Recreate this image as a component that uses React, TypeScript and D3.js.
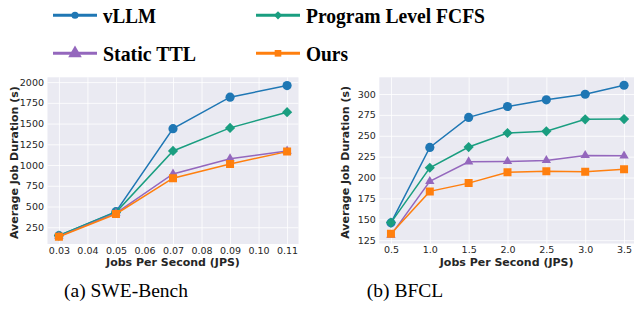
import React, { useEffect, useRef } from 'react';
import * as d3 from 'd3';

interface Series {
  name: string,
  color: string,
  marker: string,
  values: number[]
}

const sweJps: number[] = [0.03, 0.05, 0.07, 0.09, 0.11];
const sweVllm: number[] = [149, 438, 1439, 1818, 1958];
const sweFcfs: number[] = [150, 430, 1170, 1448, 1637];
const sweTtl: number[] = [140, 420, 893, 1077, 1170];
const sweOurs: number[] = [135, 410, 841, 1013, 1162];
const sweYTicks: number[] = [250, 500, 750, 1000, 1250, 1500, 1750, 2000];
const sweXTicks: number[] = [0.03, 0.04, 0.05, 0.06, 0.07, 0.08, 0.09, 0.10, 0.11];

const bfclJps: number[] = [0.5, 1.0, 1.5, 2.0, 2.5, 3.0, 3.5];
const bfclVllm: number[] = [145.7, 236, 272, 285, 293, 299.7, 310.5];
const bfclFcfs: number[] = [146, 211.7, 236.5, 253.3, 255.3, 269.7, 270];
const bfclTtl: number[] = [131, 195.4, 218.9, 219.3, 220.5, 226.5, 226];
const bfclOurs: number[] = [132.6, 183.4, 193.3, 206.2, 207.4, 207, 209.8];
const bfclYTicks: number[] = [125, 150, 175, 200, 225, 250, 275, 300];
const bfclXTicks: number[] = [0.5, 1.0, 1.5, 2.0, 2.5, 3.0, 3.5];

const names: string[] = ['vLLM', 'Program Level FCFS', 'Static TTL', 'Ours'];
const colors: string[] = ['#1f77b4', '#1a9e80', '#9467bd', '#ff7f0e'];
const markers: string[] = ['circle', 'diamond', 'triangle', 'square'];

const symbolFor = (m: string) => {
  if (m === 'diamond') return d3.symbolSquare;
  if (m === 'triangle') return d3.symbolTriangle;
  if (m === 'square') return d3.symbolSquare;
  return d3.symbolCircle;
};

const markerSize = (m: string) => {
  if (m === 'diamond') return 52;
  if (m === 'triangle') return 38;
  if (m === 'square') return 64;
  return 66;
};

// rotate the square so it reads as matplotlib's 'D'
const markerRot = (m: string) => (m === 'diamond' ? ' rotate(45)' : '');

const App: React.FC = () => {
  const ref = useRef<SVGSVGElement>(null);

  useEffect(() => {
    document.body.style.margin = '0';
    draw();
  }, []);

  function drawPanel(svg: any, opts: any) {
    const { left, right, top, bottom, xDomain, yDomain, xTicks, yTicks, xFmt, xs, series, caption, captionX } = opts;

    const x = d3.scaleLinear().domain(xDomain).range([left, right]);
    const y = d3.scaleLinear().domain(yDomain).range([bottom, top]);

    const g = svg.append('g');
    const clipId = 'clip-' + caption.replace(/[^a-z]/gi, '');
    svg.append('clipPath')
      .attr('id', clipId)
      .append('rect')
      .attr('x', left)
      .attr('y', top)
      .attr('width', right - left)
      .attr('height', bottom - top);

    g.append('rect')
      .attr('x', left)
      .attr('y', top)
      .attr('width', right - left)
      .attr('height', bottom - top)
      .attr('fill', '#eaeaf2');

    // grid
    g.append('g')
      .attr('transform', `translate(0,${bottom})`)
      .call(d3.axisBottom(x).tickValues(xTicks).tickSize(-(bottom - top)).tickFormat(() => ''))
      .call((a: any) => a.select('.domain').remove())
      .selectAll('.tick line')
      .attr('stroke', '#ffffff')
      .attr('stroke-width', 0.8);

    g.append('g')
      .attr('transform', `translate(${left},0)`)
      .call(d3.axisLeft(y).tickValues(yTicks).tickSize(-(right - left)).tickFormat(() => ''))
      .call((a: any) => a.select('.domain').remove())
      .selectAll('.tick line')
      .attr('stroke', '#ffffff')
      .attr('stroke-width', 0.8);

    // tick labels
    g.append('g')
      .attr('transform', `translate(0,${bottom + 3})`)
      .call(d3.axisBottom(x).tickValues(xTicks).tickSize(0).tickPadding(0).tickFormat(xFmt))
      .call((a: any) => a.select('.domain').remove())
      .selectAll('text')
      .attr('font-family', 'DejaVu Sans')
      .attr('font-size', 9.5)
      .attr('fill', '#262626');

    g.append('g')
      .attr('transform', `translate(${left - 3.5},0)`)
      .call(d3.axisLeft(y).tickValues(yTicks).tickSize(0).tickPadding(0).tickFormat(d3.format('d')))
      .call((a: any) => a.select('.domain').remove())
      .selectAll('text')
      .attr('font-family', 'DejaVu Sans')
      .attr('font-size', 9.5)
      .attr('fill', '#262626');

    g.append('text')
      .attr('x', (left + Math.min(right, 634)) / 2)
      .attr('y', bottom + 22)
      .attr('text-anchor', 'middle')
      .attr('font-family', 'DejaVu Sans')
      .attr('font-weight', 'bold')
      .attr('font-size', 11)
      .attr('fill', '#262626')
      .text('Jobs Per Second (JPS)');

    g.append('text')
      .attr('transform', `translate(${left - 30},${(top + bottom) / 2 + 2}) rotate(-90)`)
      .attr('text-anchor', 'middle')
      .attr('font-family', 'DejaVu Sans')
      .attr('font-weight', 'bold')
      .attr('font-size', 11)
      .attr('fill', '#262626')
      .text('Average Job Duration (s)');

    const line = d3.line<number>()
      .x((d, i) => x(xs[i]))
      .y((d) => y(d));

    const plot = g.append('g').attr('clip-path', `url(#${clipId})`);
    series.forEach((s: Series) => {
      plot.append('path')
        .datum(s.values)
        .attr('d', line)
        .attr('fill', 'none')
        .attr('stroke', s.color)
        .attr('stroke-width', 1.5);
      plot.selectAll(null)
        .data(s.values)
        .enter()
        .append('path')
        .attr('d', d3.symbol(symbolFor(s.marker), markerSize(s.marker)))
        .attr('transform', (d: number, i: number) => `translate(${x(xs[i])},${y(d)})${markerRot(s.marker)}`)
        .attr('fill', s.color);
    });

    svg.append('text')
      .attr('x', captionX)
      .attr('y', 296.5)
      .attr('text-anchor', 'middle')
      .attr('font-family', 'Liberation Serif')
      .attr('font-size', 19.5)
      .attr('fill', '#000')
      .text(caption);
  }

  function draw() {
    const svg = d3.select(ref.current);
    svg.selectAll('*').remove();

    const mk = (vals: number[][]): Series[] => vals.map((v, i) => ({
      name: names[i], color: colors[i], marker: markers[i], values: v,
    }));

    drawPanel(svg, {
      left: 47.5, right: 298.5, top: 77.3, bottom: 244,
      xDomain: [0.026, 0.114], yDomain: [48, 2058],
      xTicks: sweXTicks, yTicks: sweYTicks, xFmt: d3.format('.2f'),
      xs: sweJps,
      series: mk([sweVllm, sweFcfs, sweTtl, sweOurs]),
      caption: '(a) SWE-Bench', captionX: 126,
    });

    drawPanel(svg, {
      left: 379.3, right: 635.7, top: 77.3, bottom: 243.5,
      xDomain: [0.35, 3.65], yDomain: [121, 320],
      xTicks: bfclXTicks, yTicks: bfclYTicks, xFmt: d3.format('.1f'),
      xs: bfclJps,
      series: mk([bfclVllm, bfclFcfs, bfclTtl, bfclOurs]),
      caption: '(b) BFCL', captionX: 405,
    });

    // legend
    const legX = [53, 256];
    const legY = [15.3, 53.3];
    const legW = [53, 179, 93, 42];
    const legMk = [40, 34, 80, 44];
    names.forEach((n, i) => {
      const lx = legX[i % 2];
      const ly = legY[Math.floor(i / 2)];
      const lg = svg.append('g');
      lg.append('line')
        .attr('x1', lx).attr('x2', lx + 44)
        .attr('y1', ly).attr('y2', ly)
        .attr('stroke', colors[i])
        .attr('stroke-width', 3);
      lg.append('path')
        .attr('d', d3.symbol(symbolFor(markers[i]), legMk[i])())
        .attr('transform', `translate(${lx + 22},${ly})${markerRot(markers[i])}`)
        .attr('fill', colors[i]);
      lg.append('text')
        .attr('x', lx + 50)
        .attr('y', ly + 8)
        .attr('font-family', 'Liberation Serif')
        .attr('font-weight', 'bold')
        .attr('font-size', 21.5)
        .attr('textLength', legW[i])
        .attr('lengthAdjust', 'spacingAndGlyphs')
        .attr('fill', '#000')
        .text(n);
    });
  }

  return (
    <svg ref={ref} width={634} height={313} style={{ display: 'block', background: '#fff' }} />
  );
};

export default App;
